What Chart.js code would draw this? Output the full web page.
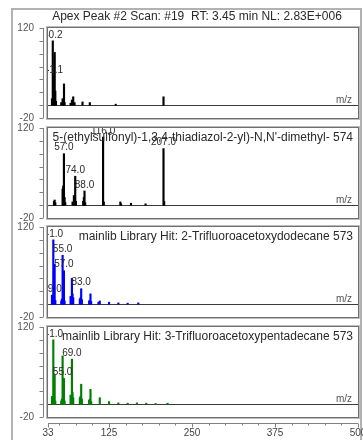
<!DOCTYPE html>
<html>
<head>
<meta charset="utf-8">
<script src="https://cdn.jsdelivr.net/npm/chart.js@4/dist/chart.umd.min.js"></script>
<style>
  html, body { margin: 0; padding: 0; background: #fff; }
  #wrap { position: relative; width: 363px; height: 440px; overflow: hidden; }
  #frame { position: absolute; left: 11px; top: 8px; width: 347px; height: 460px; border: 2px solid #b2b2b2; }
  canvas { position: absolute; left: 0; top: 0; }
</style>
</head>
<body>
<div id="wrap">
  <div id="frame"></div>
  <canvas id="scan" width="363" height="440"></canvas>
  <canvas id="hitA" width="363" height="440"></canvas>
  <canvas id="hitB" width="363" height="440"></canvas>
  <canvas id="hitC" width="363" height="440"></canvas>
</div>
<script>
// ---- axis ranges and tick labels ----
const mzRange = [33, 500];
const intensityRange = [-20, 120];
const intensityStep = 20;
const xTickValues = [33, 50, 75, 100, 125, 150, 175, 200, 225, 250, 275, 300, 325, 350, 375, 400, 425, 450, 475, 500];
const xTickLabels = [33, 125, 250, 375, 500];
const yTickLabels = [120, -20];

// ---- acquired scan ----
const scanTitle = 'Apex Peak #2 Scan: #19  RT: 3.45 min NL: 2.83E+006';
const scanMz        = [39, 40.2, 41.1, 42, 43.1, 44, 45, 53, 55, 56, 57.1, 58, 67, 69, 71, 73, 85, 96, 135, 207];
const scanIntensity = [10, 100, 45, 18, 82, 22, 6, 4, 10, 5, 33, 4, 3, 8, 13, 4, 5, 4, 1.5, 13];
const scanLabelMz   = [40.2, 41.1];

// ---- library hit: ethylsulfonyl thiadiazolyl dimethylurea ----
const hitATitle = "5-(ethylsulfonyl)-1,3,4-thiadiazol-2-yl)-N,N'-dimethyl- 574";
const hitAMz        = [42, 43, 44, 55, 56, 57, 58, 59, 70, 72, 73, 74, 75, 86, 87, 88, 89, 116, 117, 142, 143, 158, 180, 207, 208];
const hitAIntensity = [6, 8, 4, 25, 30, 80, 12, 4, 5, 15, 10, 45, 6, 6, 12, 22, 4, 106, 5, 5, 2, 3, 2, 88, 6];
const hitALabelMz   = [57, 74, 88, 116, 207];

// ---- library hit: 2-trifluoroacetoxydodecane ----
const hitBTitle = 'mainlib Library Hit: 2-Trifluoroacetoxydodecane 573';
const hitBMz        = [39, 41, 42, 43, 44, 53, 54, 55, 56, 57, 58, 67, 68, 69, 70, 71, 81, 82, 83, 84, 95, 96, 97, 98, 109, 111, 125, 139, 153, 169];
const hitBIntensity = [14, 100, 20, 62, 6, 5, 8, 76, 30, 52, 5, 12, 10, 40, 16, 10, 8, 10, 24, 7, 5, 6, 16, 4, 3, 5, 3, 2, 1.5, 2];
const hitBLabelMz   = [39, 41, 55, 57, 83];

// ---- library hit: 3-trifluoroacetoxypentadecane ----
const hitCTitle = 'mainlib Library Hit: 3-Trifluoroacetoxypentadecane 573';
const hitCMz        = [39, 41, 42, 43, 44, 53, 54, 55, 56, 57, 58, 67, 68, 69, 70, 71, 81, 82, 83, 84, 95, 96, 97, 98, 111, 125, 139, 153, 167, 181, 195, 213];
const hitCIntensity = [12, 100, 14, 45, 5, 5, 8, 75, 28, 40, 5, 14, 12, 70, 18, 10, 10, 12, 31, 8, 6, 8, 23, 4, 10, 4, 2, 1.5, 2, 1.5, 1, 1.5];
const hitCLabelMz   = [41, 55, 69];

const FONT = '"Liberation Sans", Arial, sans-serif';
const PAGE_H = 440;

// draws the panel frame, y axis, zero line, peak labels and titles
const spectrumDecor = {
  id: 'spectrumDecor',
  beforeDatasetsDraw(chart, args, o) {
    const { ctx, chartArea: a, scales: { x, y } } = chart;
    ctx.save();
    ctx.lineWidth = 1;
    ctx.strokeStyle = '#bcbcbc';
    ctx.strokeRect(a.left - 1.5, a.top - 1.5, a.right - a.left + 3, a.bottom - a.top + 3);
    ctx.strokeStyle = '#707070';
    ctx.strokeRect(a.left - 0.5, a.top - 0.5, a.right - a.left + 1, a.bottom - a.top + 1);

    const ax = Math.round(a.left) - 4.5;
    ctx.strokeStyle = '#808080';
    ctx.beginPath();
    ctx.moveTo(ax, a.top);
    ctx.lineTo(ax, a.bottom);
    y.ticks.forEach(t => {
      const py = Math.round(y.getPixelForValue(t.value)) + 0.5;
      ctx.moveTo(ax - 4, py);
      ctx.lineTo(ax, py);
    });
    ctx.stroke();

    const by = Math.round(y.getPixelForValue(0)) + 0.5;
    ctx.strokeStyle = '#3a3a3a';
    ctx.beginPath();
    ctx.moveTo(a.left, by);
    ctx.lineTo(a.right, by);
    ctx.stroke();

    ctx.fillStyle = '#555';
    ctx.font = '10px ' + FONT;
    ctx.textAlign = 'right';
    ctx.textBaseline = 'bottom';
    ctx.fillText('m/z', a.right - 6, by);

    if (o.xAxis) {
      const ly = Math.round(a.bottom) + 6.5;
      ctx.strokeStyle = '#808080';
      ctx.beginPath();
      ctx.moveTo(a.left, ly);
      ctx.lineTo(a.right, ly);
      x.ticks.forEach(t => {
        const px = Math.round(x.getPixelForValue(t.value)) + 0.5;
        ctx.moveTo(px, ly);
        ctx.lineTo(px, ly + (xTickLabels.includes(t.value) ? 4 : 2));
      });
      ctx.stroke();
    }
    ctx.restore();
  },
  afterDatasetsDraw(chart, args, o) {
    const { ctx, chartArea: a, scales: { x, y } } = chart;
    const ds = chart.data.datasets[0];
    ctx.save();
    if (o.title && o.titleAbove) {
      ctx.fillStyle = '#2a2a2a';
      ctx.font = '12px ' + FONT;
      ctx.textAlign = 'center';
      ctx.textBaseline = 'middle';
      ctx.fillText(o.title, 197, a.top - 11);
    }
    ctx.beginPath();
    ctx.rect(a.left, a.top, a.right - a.left, a.bottom - a.top);
    ctx.clip();
    ctx.fillStyle = '#2a2a2a';
    ctx.font = '10px ' + FONT;
    ctx.textAlign = 'center';
    ctx.textBaseline = 'bottom';
    (o.labelMz || []).forEach(mz => {
      const pt = ds.data.find(d => d.x === mz);
      if (!pt) return;
      const shift = (o.labelShift && o.labelShift[mz]) || 0;
      ctx.fillText(mz.toFixed(1), x.getPixelForValue(mz), y.getPixelForValue(pt.y) - 1 + shift);
    });
    if (o.title && !o.titleAbove) {
      ctx.font = '12px ' + FONT;
      ctx.textAlign = 'right';
      ctx.textBaseline = 'middle';
      ctx.fillText(o.title, a.right - 5, a.top + 10);
    }
    ctx.restore();
  }
};

function makePanel(id, mz, intensity, color, boxTop, decor) {
  const boxBottom = boxTop + 90;
  const withAxis = !!decor.xAxis;
  return new Chart(document.getElementById(id), {
    type: 'bar',
    data: {
      datasets: [{
        data: mz.map((m, i) => ({ x: m, y: intensity[i] })),
        backgroundColor: color,
        borderWidth: 0,
        barThickness: 1.5
      }]
    },
    options: {
      responsive: false,
      animation: false,
      events: [],
      layout: { padding: { top: boxTop, bottom: withAxis ? 0 : PAGE_H - boxBottom, left: 0, right: 5 } },
      plugins: { legend: { display: false }, tooltip: { enabled: false }, spectrumDecor: decor },
      scales: {
        x: {
          type: 'linear',
          offset: false,
          min: mzRange[0], max: mzRange[1],
          display: withAxis,
          grid: { display: false, drawTicks: false, offset: false },
          border: { display: false },
          afterBuildTicks: s => { s.ticks = xTickValues.map(v => ({ value: v })); },
          afterFit: s => {
            if (withAxis) s.height = PAGE_H - boxBottom;
            s.paddingLeft = 0;
            s.paddingRight = 0;
          },
          ticks: {
            autoSkip: false, maxRotation: 0, padding: 10,
            color: '#444', font: { size: 10, family: FONT },
            callback: v => xTickLabels.includes(v) ? String(v) : ''
          }
        },
        y: {
          type: 'linear',
          min: intensityRange[0], max: intensityRange[1],
          grid: { display: false, drawTicks: false },
          border: { display: false },
          afterFit: s => { s.width = 48; s.paddingTop = 0; s.paddingBottom = 0; },
          ticks: {
            stepSize: intensityStep, padding: 14, autoSkip: false,
            color: '#555', font: { size: 10, family: FONT },
            callback: v => yTickLabels.includes(v) ? String(v) : ''
          }
        }
      }
    },
    plugins: [spectrumDecor]
  });
}

makePanel('scan', scanMz, scanIntensity, '#000000', 28,
  { title: scanTitle, titleAbove: true, labelMz: scanLabelMz });
makePanel('hitA', hitAMz, hitAIntensity, '#000000', 128,
  { title: hitATitle, labelMz: hitALabelMz });
makePanel('hitB', hitBMz, hitBIntensity, '#0000ff', 227,
  { title: hitBTitle, labelMz: hitBLabelMz });
makePanel('hitC', hitCMz, hitCIntensity, '#008000', 327,
  { title: hitCTitle, labelMz: hitCLabelMz, labelShift: { 55: 22 }, xAxis: true });
</script>
</body>
</html>
